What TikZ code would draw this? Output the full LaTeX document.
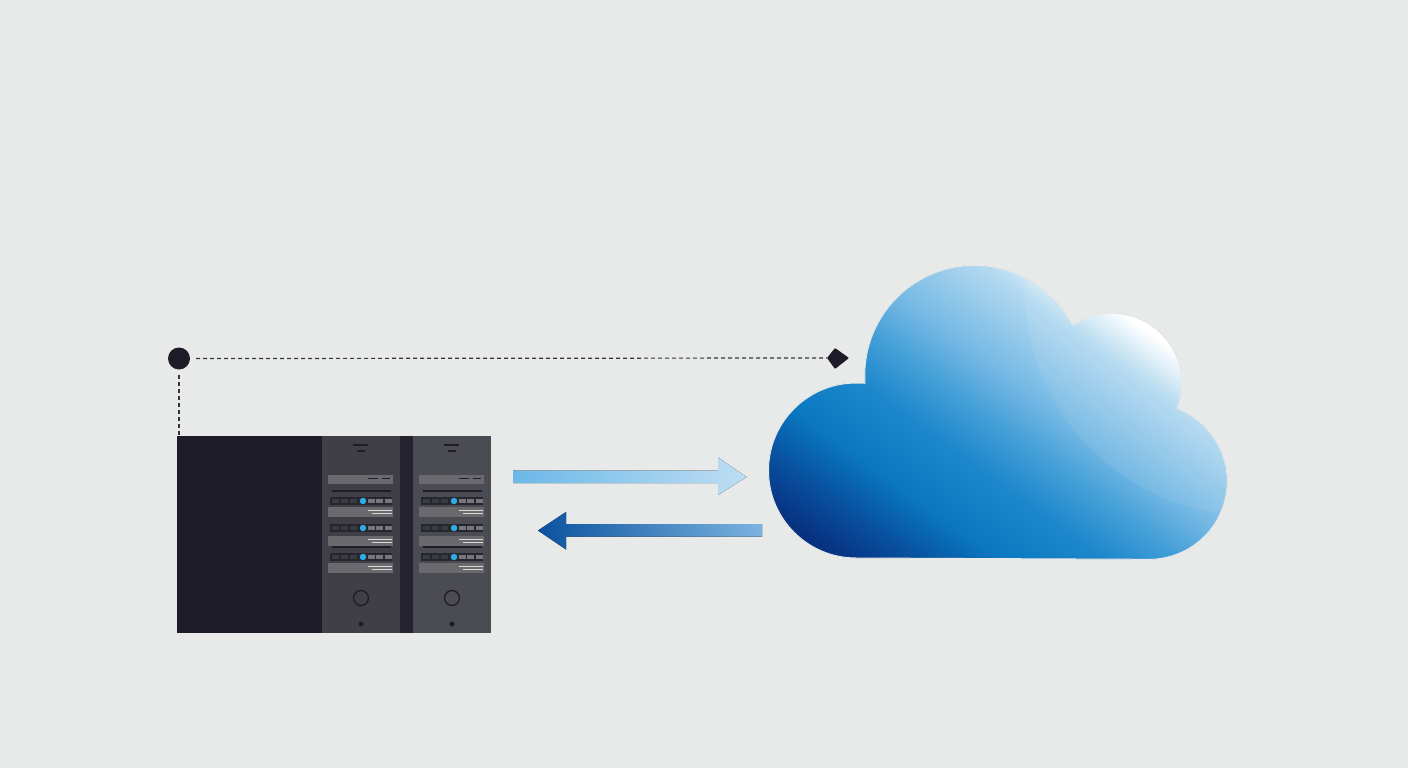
\documentclass[tikz,border=0pt]{standalone}
\usepackage{xcolor}
\definecolor{wallgrey}{RGB}{232,233,233}
\definecolor{rackink}{RGB}{29,28,40}
\definecolor{rackslot}{RGB}{37,36,46}
\definecolor{rackface}{RGB}{64,63,72}
\definecolor{baygrey}{RGB}{106,106,110}
\definecolor{stripdark}{RGB}{38,38,46}
\definecolor{chipgrey}{RGB}{118,118,124}
\definecolor{chipdim}{RGB}{58,58,66}
\definecolor{ledblue}{RGB}{48,172,226}
\definecolor{sendlight}{RGB}{107,184,232}
\definecolor{sendpale}{RGB}{190,222,243}
\definecolor{backdeep}{RGB}{10,82,158}
\definecolor{backmid}{RGB}{14,112,184}
\definecolor{backpale}{RGB}{124,180,224}
\definecolor{cloudnavy}{RGB}{8,48,128}
\definecolor{clouddeep}{RGB}{8,82,160}
\definecolor{cloudblue}{RGB}{10,120,192}
\definecolor{cloudmid}{RGB}{28,135,203}
\definecolor{cloudsoft}{RGB}{70,160,216}
\definecolor{cloudsky}{RGB}{116,184,228}
\definecolor{cloudpale}{RGB}{180,218,240}
\usepackage{tikz}
\usetikzlibrary{positioning,arrows.meta,calc,backgrounds}
\pgfdeclarehorizontalshading{cloudshade}{100bp}{
  color(0bp)=(cloudnavy);
  color(30bp)=(cloudnavy);
  color(34bp)=(clouddeep);
  color(38bp)=(cloudblue);
  color(43bp)=(cloudmid);
  color(47bp)=(cloudsoft);
  color(50.5bp)=(cloudsky);
  color(57bp)=(cloudpale);
  color(60.5bp)=(white);
  color(100bp)=(white)}
\newcommand{\cloudoutline}{(856,558) arc[start angle=-90,end angle=-270,radius=87.5pt] -- (865,383)
      arc[start angle=184,end angle=27,radius=110pt]
      arc[start angle=124,end angle=-21,radius=70pt]
      arc[start angle=69,end angle=-90,radius=78pt] -- cycle}
\tikzset{
  rackblock/.style={rectangle,fill=rackink,inner sep=0pt,anchor=north west},
  rackpanel/.style={rectangle,fill=rackface,inner sep=0pt,anchor=north west},
  link/.style     ={dash pattern=on 4pt off 3pt,line width=1.2pt,draw=rackink!90},
  hub/.style      ={circle,fill=rackink,inner sep=0pt,minimum size=22pt},
  baybar/.style   ={fill=baygrey},
  stripbar/.style ={fill=stripdark},
  chip/.style     ={fill=chipgrey},
  dimchip/.style  ={fill=chipdim},
  glint/.style    ={draw=white!85!black,line width=.9pt},
  blackline/.style={draw=rackink,line width=1.3pt},
  led/.style      ={circle,fill=ledblue,inner sep=0pt,minimum size=6.5pt},
}
\begin{document}
\begin{tikzpicture}[x=1pt,y=-1pt]
  \useasboundingbox[fill=wallgrey] (0,0) rectangle (1408,768);
  % server
  \node[rackblock,minimum width=314pt,minimum height=197pt] (rack) at (177,436) {};
  \node[rackpanel,minimum width=78pt,minimum height=197pt] (panela) at (322,436) {};
  \node[rackpanel,minimum width=78pt,minimum height=197pt,fill=rackface!94!white] (panelb) at (413,436) {};
  \node[rectangle,fill=rackslot,inner sep=0pt,anchor=north west,minimum width=13pt,minimum height=197pt] (slot) at (400,436) {};
  \foreach \px in {0,91}{
    \begin{scope}[xshift=\px pt]
      \draw[blackline] (353,445) -- (368,445);
      \draw[blackline] (357,451) -- (365,451);
      \fill[baybar] (328,475) rectangle (393,484);
      \draw[blackline] (368,478.5) -- (378,478.5) (382,478.5) -- (390,478.5);
      \draw[blackline] (332,491) -- (391,491);
      \draw[blackline] (332,547) -- (391,547);
      \foreach \ry/\gy in {497/507,524/536,553/563}{
        \fill[stripbar] (330,\ry) rectangle (392,\ry+8);
        \foreach \cx in {332,341,350}{\fill[dimchip] (\cx,\ry+2) rectangle (\cx+7,\ry+6);}
        \foreach \cx in {368,376,385}{\fill[chip] (\cx,\ry+2) rectangle (\cx+7,\ry+6);}
        \node[led] at (363,\ry+4) {};
        \fill[baybar] (328,\gy) rectangle (393,\gy+9.5);
        \draw[glint] (368,\gy+3.5) -- (392,\gy+3.5);
        \draw[glint,line width=.6pt] (372,\gy+6) -- (392,\gy+6);
      }
      \draw[draw=rackink,line width=1.3pt] (361,598) circle[radius=7.5pt];
      \fill[rackink] (361,624) circle[radius=2.5pt];
    \end{scope}
  }
  % cloud
  \begin{scope}
    \clip \cloudoutline;
    \fill[shading=cloudshade,shading angle=54] (700,80) rectangle (1300,680);
    \fill[white,opacity=.07] (1250,290) circle[radius=225pt];
  \end{scope}
  \draw[wallgrey,line width=1pt] \cloudoutline;
  % dashed links
  \node[hub] (origin) at (179,358.5) {};
  \coordinate (flag) at (827,358);
  \fill[rackink,rounded corners=.8pt] (flag) -- (835,348) -- (849,358) -- (835,369) -- cycle;
  \draw[link] (origin) ++(17,0) -- (flag);
  \draw[link] (origin) ++(0,16) -- (origin |- rack.north);
  % exchange arrows
  \coordinate (sendfrom) at (513,477);
  \coordinate (backfrom) at (762,530.5);
  \fill[left color=sendlight,right color=sendpale] (sendfrom) ++(0,-6.5) -- ++(205,0) -- ++(0,-13) -- (746.5,477) -- (718,495) -- ++(0,-12) -- ++(-205,0) -- cycle;
  \fill[left color=backdeep,middle color=backmid,right color=backpale] (backfrom) ++(0,-6.5) -- (566,524) -- ++(0,-12) -- (538,530.5) -- (566,549.5) -- ++(0,-13) -- (762,536.5) -- cycle;
\end{tikzpicture}
\end{document}
